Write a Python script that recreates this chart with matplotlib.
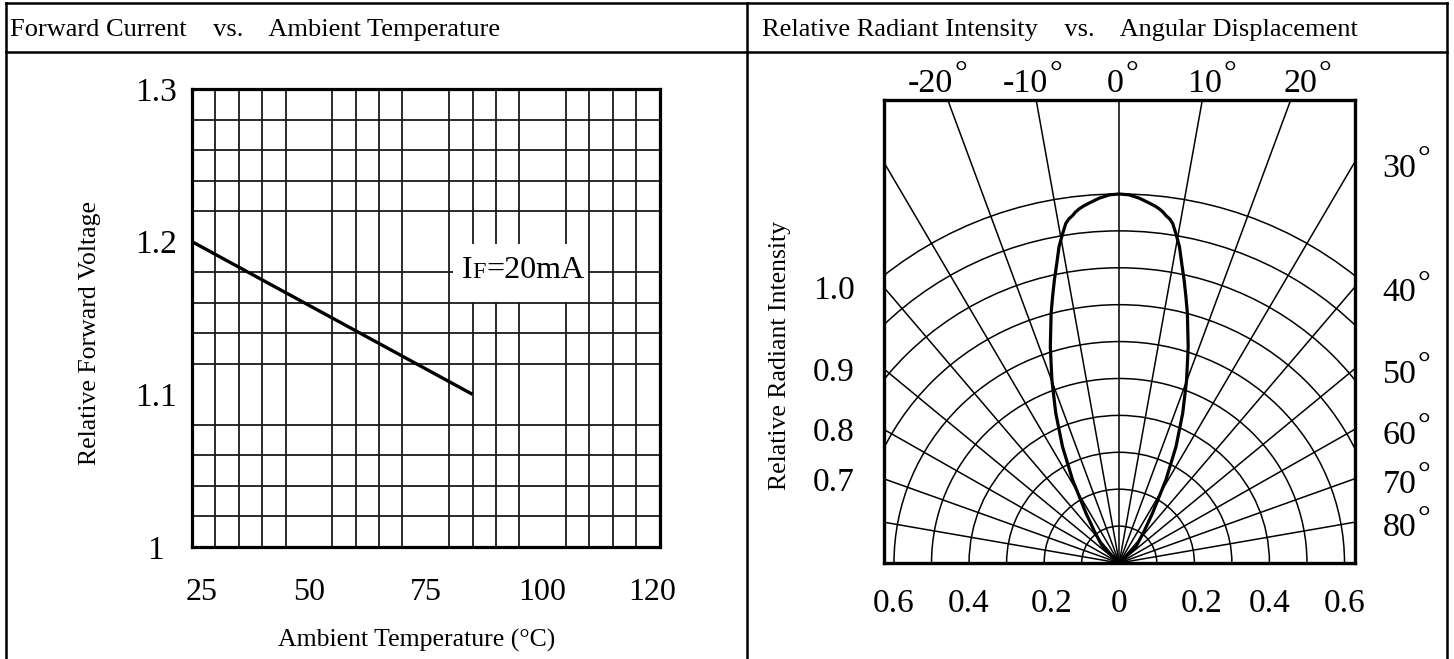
import numpy as np
import matplotlib
matplotlib.use("Agg")
import matplotlib.pyplot as plt
from matplotlib.patches import Rectangle, Circle
from matplotlib.offsetbox import TextArea, HPacker, AnnotationBbox

plt.rcParams['font.family'] = ['Liberation Serif', 'DejaVu Serif']

# ---- left chart: relative forward voltage vs ambient temperature
temp = [25, 85]
rel_voltage = [1.2, 1.1]
temp_labels = ['25', '50', '75', '100', '120']
volt_ticks = [1.0, 1.1, 1.2, 1.3]
volt_labels = ['1', '1.1', '1.2', '1.3']

# ---- right chart: radiation pattern (one half, mirrored)
beam_angle = [0, 1.5, 3.1, 4.5, 5.5, 6.3, 7.0, 7.5, 8.2, 8.8, 9.6, 10.6,
              11.6, 12.7, 13.8, 15, 17.4, 19.9, 22.6, 25.6, 28.9, 33.3,
              38, 45, 60]
beam_intensity = [1.0, 0.998, 0.99, 0.98, 0.973, 0.966, 0.958, 0.95, 0.942,
                  0.931, 0.905, 0.872, 0.828, 0.786, 0.744, 0.701, 0.614,
                  0.527, 0.44, 0.35, 0.257, 0.161, 0.105, 0.063, 0.0]
top_angles = [-20, -10, 0, 10, 20]
side_angles = [30, 40, 50, 60, 70, 80]
intensity_labels = ['1.0', '0.9', '0.8', '0.7']
radius_ticks = [-0.6, -0.4, -0.2, 0, 0.2, 0.4, 0.6]

W, H = 1454, 659
fig = plt.figure(figsize=(W / 100, H / 100), dpi=100)

# table frame drawn in pixel coords
bg = fig.add_axes([0, 0, 1, 1])
bg.set_xlim(0, W)
bg.set_ylim(H, 0)
bg.axis('off')
lw_frame = 1.8
bg.plot([5.5, 1447], [2.5, 2.5], color='black', lw=lw_frame)
bg.plot([5.5, 1447], [52, 52], color='black', lw=lw_frame)
for xx in [5.5, 746.5, 1447]:
    bg.plot([xx, xx], [2.5, H], color='black', lw=lw_frame)
bg.text(10.5, 36, "Forward Current    vs.    Ambient Temperature",
        fontsize=19, ha='left', va='baseline')
bg.text(762, 36, "Relative Radiant Intensity    vs.    Angular Displacement",
        fontsize=19, ha='left', va='baseline')
bg.text(90, 333, "Relative Forward Voltage", fontsize=18.5, rotation=90,
        ha='center', va='center')
bg.text(416.5, 640, "Ambient Temperature (\u00b0C)", fontsize=18.5,
        ha='center', va='center')
bg.text(780, 355, "Relative Radiant Intensity", fontsize=18.5, rotation=90,
        ha='center', va='center')

# ---------------- left chart
ax1 = fig.add_axes([192 / W, 1 - 547 / H, 467.5 / W, 458 / H])
ax1.set_xlim(25, 125)
ax1.set_ylim(1.0, 1.3)
ax1.set_xticks(np.arange(25, 126, 5), minor=True)
ax1.set_yticks(np.arange(1.0, 1.301, 0.02), minor=True)
ax1.grid(which='minor', color='#1a1a1a', lw=1.3)
ax1.set_xticks([27, 50, 75, 100, 123.5])
ax1.set_xticklabels(temp_labels)
ax1.set_yticks(volt_ticks)
ax1.set_yticklabels(volt_labels)
ax1.tick_params(which='both', length=0)
ax1.tick_params(axis='x', labelsize=23, pad=22)
ax1.tick_params(axis='y', labelsize=24, pad=26)
for lbl in ax1.get_yticklabels():
    lbl.set_ha('center')
for sp in ax1.spines.values():
    sp.set_linewidth(2.3)
    sp.set_zorder(5)
ax1.plot(temp, rel_voltage, color='black', lw=2.4, zorder=3,
         solid_capstyle='butt')

# white box behind the condition label
ax1.add_patch(Rectangle((80.8, 1.1605), 29, 0.038, fc='white', ec='none',
                        zorder=2))
cond = HPacker(children=[TextArea("I", textprops=dict(fontsize=23)),
                         TextArea("F", textprops=dict(fontsize=17.5)),
                         TextArea("=20mA", textprops=dict(fontsize=23))],
               align='baseline', pad=0, sep=0)
ax1.add_artist(AnnotationBbox(cond, (95.8, 1.1814), frameon=False,
                              box_alignment=(0.5, 0.5), zorder=4))

# ---------------- right chart
half_w = 0.6266
top_y = 1.2547
ax2 = fig.add_axes([884 / W, 1 - 563 / H, 470.5 / W, 463 / H])
ax2.set_xlim(-half_w, half_w)
ax2.set_ylim(0, top_y)

for r in np.arange(0.1, 1.01, 0.1):
    ax2.add_patch(Circle((0, 0), r, fill=False, ec='black', lw=1.1, zorder=1))
for a in range(-80, 81, 10):
    t = np.radians(a)
    ax2.plot([0, 3 * np.sin(t)], [0, 3 * np.cos(t)], color='black', lw=1.1,
             zorder=1)

ang = np.radians(np.concatenate([-np.array(beam_angle[::-1]), beam_angle[1:]]))
rr = np.concatenate([beam_intensity[::-1], beam_intensity[1:]])
ax2.plot(rr * np.sin(ang), rr * np.cos(ang), color='black', lw=2.3, zorder=3,
         solid_joinstyle='round')

ax2.set_xticks([-0.6, -0.4, -0.18, 0, 0.22, 0.4, 0.6])
ax2.set_xticklabels([f"{abs(v):g}" for v in radius_ticks])
hits = [half_w / np.tan(np.radians(a)) for a in [40, 50, 60, 70]]
ax2.set_yticks(hits)
ax2.set_yticklabels(intensity_labels)
ax2.tick_params(length=0, labelsize=24)
ax2.tick_params(axis='x', pad=18)
ax2.tick_params(axis='y', pad=21)
for sp in ax2.spines.values():
    sp.set_linewidth(2.4)
    sp.set_zorder(5)


def angle_label(x, y, a, ha):
    t = ax2.text(x, y, f"{a}", fontsize=24.5, ha=ha, va='baseline',
                 clip_on=False)
    # raised ring after the number
    ax2.annotate("\u00b0", xy=(1, 1), xycoords=t, xytext=(1, 6),
                 textcoords='offset points', fontsize=23, ha='left',
                 va='top', annotation_clip=False)


for a in top_angles:
    x = top_y * np.tan(np.radians(a)) * 1.08 - 0.01
    angle_label(x, top_y + 0.0217, a, 'center')
for a in side_angles:
    y = half_w / np.tan(np.radians(a)) - 0.038
    angle_label(half_w + 0.075, y, a, 'left')

fig.savefig("out.png", dpi=100)
